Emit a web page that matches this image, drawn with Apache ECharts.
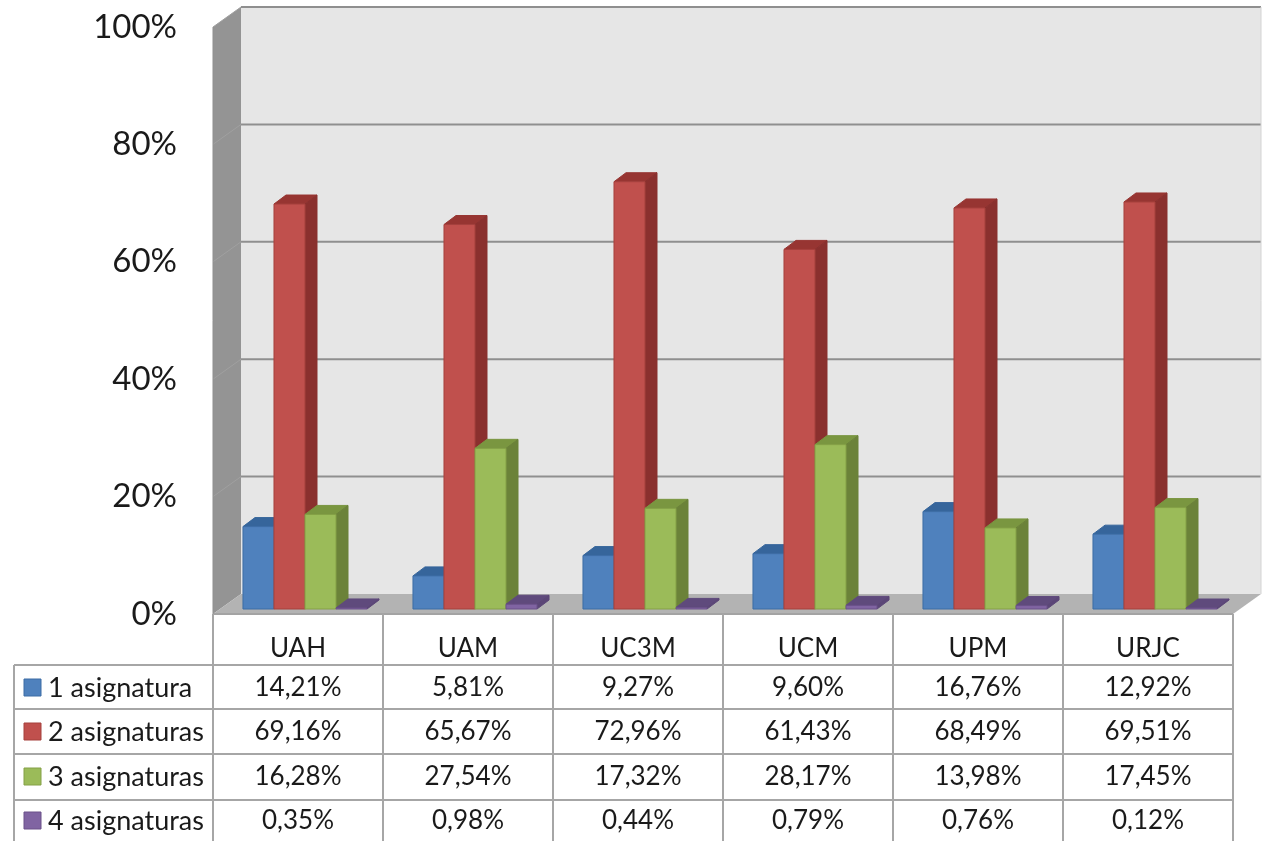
<!DOCTYPE html>
<html>
<head>
<meta charset="utf-8">
<script src="https://cdn.jsdelivr.net/npm/echarts@6/dist/echarts.min.js"></script>
<style>
html,body{margin:0;padding:0;background:#fff;overflow:hidden}
#chart{width:1263px;height:841px}
</style>
</head>
<body>
<div id="chart"></div>
<script>
var categories = ["UAH","UAM","UC3M","UCM","UPM","URJC"];
var seriesNames = ["1 asignatura","2 asignaturas","3 asignaturas","4 asignaturas"];
var asig1 = [14.21,5.81,9.27,9.60,16.76,12.92];
var asig2 = [69.16,65.67,72.96,61.43,68.49,69.51];
var asig3 = [16.28,27.54,17.32,28.17,13.98,17.45];
var asig4 = [0.35,0.98,0.44,0.79,0.76,0.12];
var yTicks = [0,20,40,60,80,100];

var allSeries = [asig1,asig2,asig3,asig4];
// front, top, side, outline
var colors = [
    ["#4f81bd","#36659b","#2f5b8e","#3d6da5"],
    ["#c0504d","#973532","#8a302e","#a5403d"],
    ["#9bbb59","#7a9640","#6b8239","#84a046"],
    ["#8064a2","#5f4a7c","#5b4677","#6a5189"]
];
var depthX = 28, depthY = 20;
var fontName = "Lato, Carlito, sans-serif";
var rowLines = [665,709,754,800];
var rowMid = [688,732,777,821];

var poly = function(pts,fill,stroke){
    return {type:'polygon',shape:{points:pts},style:{fill:fill,stroke:stroke||null,lineWidth:stroke?1:0}};
};
var line = function(x1,y1,x2,y2,color,w){
    return {type:'line',shape:{x1:x1,y1:y1,x2:x2,y2:y2},style:{stroke:color,lineWidth:w||2}};
};

var renderWalls = function(params,api){
    var x0 = api.coord([0,0])[0]-api.size([1,0])[0]/2;
    var x1 = x0+api.size([1,0])[0]*categories.length;
    var y0 = api.coord([0,0])[1];
    var y1 = api.coord([0,100])[1];
    var kids = [];
    kids.push(poly([[x0+depthX,y1-depthY],[x1+depthX,y1-depthY],[x1+depthX,y0-depthY],[x0+depthX,y0-depthY]],"#e6e6e6"));
    kids.push(poly([[x0,y1],[x0+depthX,y1-depthY],[x0+depthX,y0-depthY],[x0,y0]],"#949494"));
    kids.push(poly([[x0,y0],[x0+depthX,y0-depthY],[x1+depthX,y0-depthY],[x1,y0]],"#b3b3b3"));
    for(var i=0;i<yTicks.length;i++){
        var y = api.coord([0,yTicks[i]])[1];
        if(yTicks[i]>0){
            kids.push(line(x0+depthX,y-depthY,x1+depthX,y-depthY,"#8f8f8f",2));
            kids.push(line(x0,y,x0+depthX,y-depthY,"#a0a0a0",1));
        }
    }
    kids.push(line(x1+depthX,y1-depthY,x1+depthX,y0-depthY,"#d4d4d4",1));
    kids.push(line(x0,y0,x1,y0,"#a3a3a3",2));
    kids.push(line(x0,y0,x0,y1,"#8f8f8f",1));
    return {type:'group',children:kids};
};

var barRender = function(s){
    return function(params,api){
        var band = api.size([1,0])[0];
        var bw = band*0.1824;
        var base = api.coord([api.value(0),0]);
        var top = api.coord([api.value(0),api.value(1)]);
        var left = base[0]-bw*2+bw*s+7;
        var right = left+bw;
        var yb = base[1]-5, yt = Math.min(top[1]-4,yb-1);
        var dx = 12, dy = 9;
        var c = colors[s];
        return {type:'group',children:[
            poly([[left,yt],[left+dx,yt-dy],[right+dx,yt-dy],[right,yt]],c[1],c[1]),
            poly([[right,yt],[right+dx,yt-dy],[right+dx,yb-dy],[right,yb]],c[2],c[2]),
            poly([[left,yt],[right,yt],[right,yb],[left,yb]],c[0],c[3])
        ]};
    };
};

var renderTable = function(params,api){
    var band = api.size([1,0])[0];
    var x0 = api.coord([0,0])[0]-band/2;
    var x1 = x0+band*categories.length;
    var y0 = api.coord([0,0])[1];
    var bottom = api.getHeight();
    var kids = [];
    for(var i=0;i<=categories.length;i++){
        kids.push(line(x0+band*i,y0,x0+band*i,bottom,"#a6a6a6",2));
    }
    kids.push(line(14,rowLines[0],14,bottom,"#a6a6a6",2));
    for(var r=0;r<rowLines.length;r++){
        kids.push(line(14,rowLines[r],x1,rowLines[r],"#a6a6a6",2));
    }
    for(var s=0;s<seriesNames.length;s++){
        kids.push({type:'rect',shape:{x:24,y:rowMid[s]-9,width:17,height:17},style:{fill:colors[s][0],stroke:colors[s][3],lineWidth:1}});
        kids.push({type:'text',style:{x:48,y:rowMid[s],text:seriesNames[s],fill:"#1a1a1a",font:"27px "+fontName,textAlign:'left',textVerticalAlign:'middle'}});
        for(var i=0;i<categories.length;i++){
            var txt = allSeries[s][i].toFixed(2).replace(".",",")+"%";
            kids.push({type:'text',style:{x:x0+band*(i+0.5),y:rowMid[s],text:txt,fill:"#1a1a1a",font:"26px "+fontName,textAlign:'center',textVerticalAlign:'middle'}});
        }
    }
    return {type:'group',children:kids};
};

var barSeries = allSeries.map(function(vals,s){
    return {
        type:'custom',
        name:seriesNames[s],
        renderItem:barRender(s),
        encode:{x:0,y:1},
        data:vals.map(function(v,i){ return [i,v]; }),
        z:5+s
    };
});

var chart = echarts.init(document.getElementById("chart"));
chart.setOption({
    animation:false,
    backgroundColor:"#fff",
    grid:{left:213,top:27,width:1020,height:587},
    xAxis:{
        type:'category',
        data:categories,
        axisLine:{show:false},
        axisTick:{show:false},
        axisLabel:{fontFamily:fontName,fontSize:26,color:"#1a1a1a",margin:22}
    },
    yAxis:{
        type:'value',
        min:0,max:100,interval:20,
        axisLine:{show:false},
        axisTick:{show:false},
        splitLine:{show:false},
        axisLabel:{fontFamily:fontName,fontSize:33,color:"#1a1a1a",margin:36,padding:[10,0,0,0],formatter:'{value}%'}
    },
    series:[
        {type:'custom',name:'paredes',renderItem:renderWalls,encode:{x:0,y:1},data:[[0,0]],z:1,silent:true},
        {type:'custom',name:'tabla',renderItem:renderTable,encode:{x:0,y:1},data:[[0,0]],z:2,silent:true}
    ].concat(barSeries)
});
</script>
</body>
</html>
